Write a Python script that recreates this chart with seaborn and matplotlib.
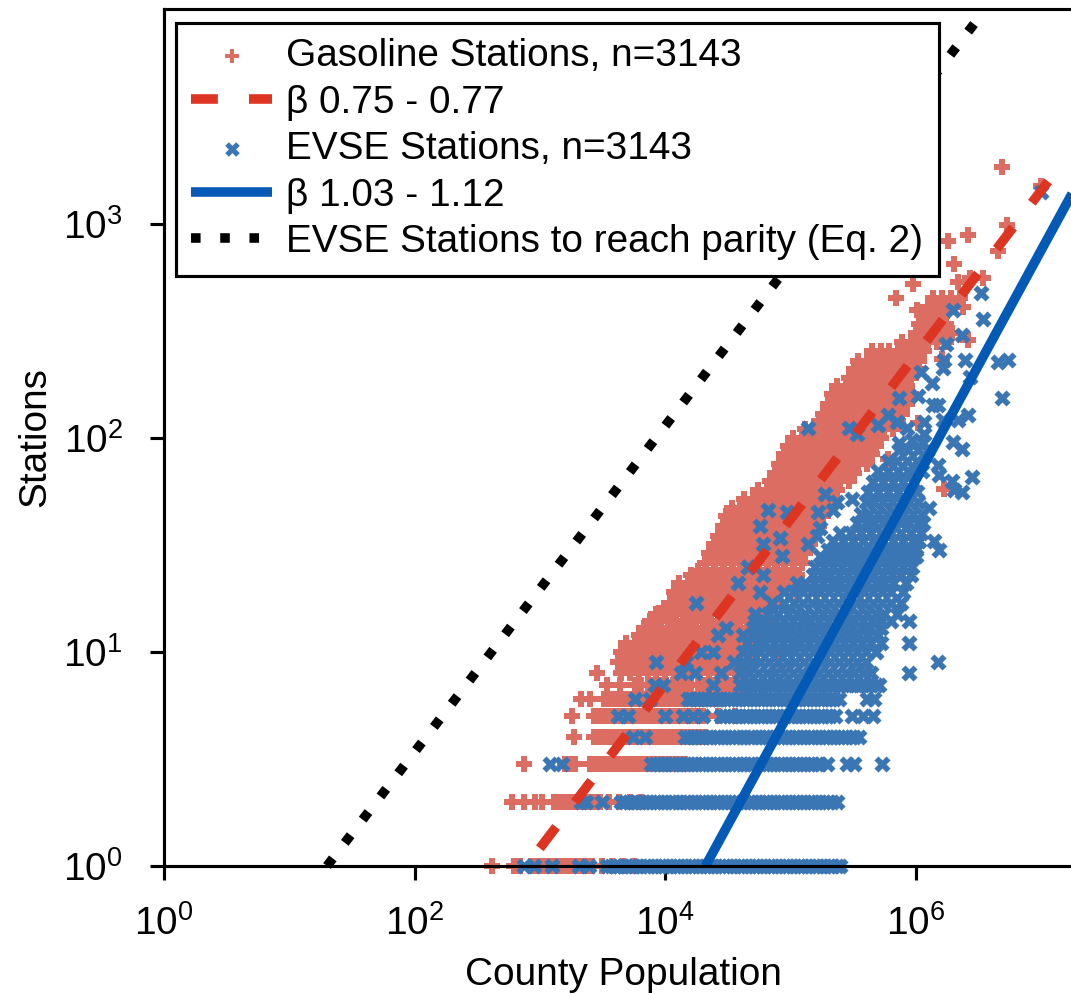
import numpy as np
import pandas as pd
import seaborn as sns
import matplotlib.pyplot as plt

# values: population as log10, stations as plain counts

gas_counts = [1, 2, 3, 4, 5, 6, 7, 8, 9, 10, 11, 12, 13, 14, 15, 16, 17, 19, 21, 23, 24, 26, 29, 32, 35, 39, 43, 47, 52,
              57, 63, 69, 76, 84, 92, 100, 110, 120, 130, 145, 160, 175, 190, 210, 230, 255, 280, 310, 340, 370, 410, 450]
gas_logpop = [
    [2.62, 2.79, 2.84, 2.93, 2.97, 3.01, 3.05, 3.09, 3.13, 3.17, 3.21, 3.25, 3.29, 3.33, 3.37, 3.42, 3.50, 3.58, 3.66, 3.75],
    [2.78, 2.87, 2.96, 3.02, 3.11, 3.15, 3.19, 3.23, 3.27, 3.31, 3.35, 3.39, 3.43, 3.48, 3.55, 3.63, 3.72, 3.81],
    [2.87, 3.20, 3.24, 3.28, 3.40, 3.44, 3.48, 3.52, 3.56, 3.60, 3.64, 3.68, 3.72, 3.76, 3.80, 3.84, 3.88, 3.92, 3.96,
     4.00, 4.04, 4.08, 4.12, 4.16],
    [3.27, 3.43, 3.47, 3.51, 3.55, 3.59, 3.63, 3.67, 3.71, 3.75, 3.79, 3.83, 3.87, 3.91, 3.95, 3.99, 4.03, 4.07, 4.11,
     4.15, 4.19, 4.23, 4.27, 4.32],
    [3.26, 3.43, 3.47, 3.51, 3.55, 3.59, 3.63, 3.67, 3.71, 3.75, 3.79, 3.83, 3.87, 3.91, 3.95, 3.99, 4.03, 4.07, 4.11,
     4.15, 4.19, 4.23, 4.27, 4.30, 4.42, 4.56],
    [3.33, 3.40, 3.51, 3.55, 3.59, 3.63, 3.67, 3.71, 3.75, 3.79, 3.83, 3.87, 3.91, 3.95, 3.99, 4.03, 4.07, 4.11, 4.15,
     4.19, 4.23, 4.27, 4.31, 4.35, 4.39, 4.45],
    [3.54, 3.64, 3.76, 3.81, 3.86, 3.91, 3.96, 4.01, 4.06, 4.11, 4.16, 4.21, 4.26, 4.31, 4.36, 4.41, 4.46, 4.51, 4.56, 4.60],
    [3.46, 3.65, 3.72, 3.79, 3.86, 3.93, 4.00, 4.07, 4.14, 4.21, 4.28, 4.35, 4.42, 4.49, 4.56, 4.63],
    [3.62, 3.69, 3.76, 3.83, 3.90, 3.97, 4.04, 4.11, 4.18, 4.25, 4.32, 4.39, 4.46, 4.53, 4.60, 4.67],
    [3.65, 3.72, 3.79, 3.86, 3.93, 4.00, 4.07, 4.14, 4.21, 4.28, 4.35, 4.42, 4.49, 4.56, 4.63, 4.70, 4.91],
    [3.69, 3.76, 3.83, 3.90, 3.97, 4.04, 4.11, 4.18, 4.25, 4.32, 4.39, 4.46, 4.53, 4.60, 4.67, 4.74],
    [3.79, 3.86, 3.93, 4.00, 4.07, 4.14, 4.21, 4.28, 4.35, 4.42, 4.49, 4.56, 4.63, 4.70, 4.77],
    [3.83, 3.90, 3.97, 4.04, 4.11, 4.18, 4.25, 4.32, 4.39, 4.46, 4.53, 4.60, 4.67, 4.74, 4.81, 4.95],
    [3.88, 3.95, 4.02, 4.09, 4.16, 4.23, 4.30, 4.37, 4.44, 4.51, 4.58, 4.65, 4.72, 4.79],
    [3.93, 4.00, 4.07, 4.14, 4.21, 4.28, 4.35, 4.42, 4.49, 4.56, 4.63, 4.70, 4.77, 4.84],
    [3.99, 4.06, 4.13, 4.20, 4.27, 4.34, 4.41, 4.48, 4.55, 4.62, 4.69, 4.76, 4.83],
    [4.04, 4.11, 4.18, 4.25, 4.32, 4.39, 4.46, 4.53, 4.60, 4.67, 4.74, 4.81, 4.88],
    [4.07, 4.14, 4.21, 4.28, 4.35, 4.42, 4.49, 4.56, 4.63, 4.70, 4.77, 4.84, 4.91, 4.98, 5.05],
    [4.11, 4.18, 4.25, 4.32, 4.39, 4.46, 4.53, 4.60, 4.67, 4.74, 4.81, 4.88, 4.95, 5.02],
    [4.21, 4.28, 4.35, 4.42, 4.49, 4.56, 4.63, 4.70, 4.77, 4.84, 4.91, 4.98, 5.05],
    [4.26, 4.33, 4.40, 4.47, 4.54, 4.61, 4.68, 4.75, 4.82, 4.89, 4.96, 5.03],
    [4.32, 4.39, 4.46, 4.53, 4.60, 4.67, 4.74, 4.81, 4.88, 4.95, 5.02, 5.09],
    [4.35, 4.42, 4.49, 4.56, 4.63, 4.70, 4.77, 4.84, 4.91, 4.98, 5.05, 5.12],
    [4.39, 4.46, 4.53, 4.60, 4.67, 4.74, 4.81, 4.88, 4.95, 5.02, 5.09, 5.16],
    [4.42, 4.49, 4.56, 4.63, 4.70, 4.77, 4.84, 4.91, 4.98, 5.05, 5.12, 5.19],
    [4.46, 4.53, 4.60, 4.67, 4.74, 4.81, 4.88, 4.95, 5.02, 5.09, 5.16, 5.23],
    [4.49, 4.56, 4.63, 4.70, 4.77, 4.84, 4.91, 4.98, 5.05, 5.12, 5.19, 5.26],
    [4.53, 4.60, 4.67, 4.74, 4.81, 4.88, 4.95, 5.02, 5.09, 5.16, 5.23, 5.30],
    [4.63, 4.70, 4.77, 4.84, 4.91, 4.98, 5.05, 5.12, 5.19, 5.26, 5.33],
    [4.74, 4.81, 4.88, 4.95, 5.02, 5.09, 5.16, 5.23, 5.30, 5.37],
    [4.84, 4.91, 4.98, 5.05, 5.12, 5.19, 5.26, 5.33, 5.40, 5.47],
    [4.88, 4.95, 5.02, 5.09, 5.16, 5.23, 5.30, 5.37, 5.44, 5.51],
    [4.91, 4.98, 5.05, 5.12, 5.19, 5.26, 5.33, 5.40, 5.47, 5.54, 5.61],
    [4.95, 5.02, 5.09, 5.16, 5.23, 5.30, 5.37, 5.44, 5.51, 5.58, 5.65],
    [4.98, 5.05, 5.12, 5.19, 5.26, 5.33, 5.40, 5.47, 5.54, 5.61, 5.68],
    [5.02, 5.09, 5.16, 5.23, 5.30, 5.37, 5.44, 5.51, 5.58, 5.65, 5.72],
    [5.12, 5.19, 5.26, 5.33, 5.40, 5.47, 5.54, 5.61, 5.68, 5.75, 5.82],
    [5.23, 5.30, 5.37, 5.44, 5.51, 5.58, 5.65, 5.72, 5.79, 5.86],
    [5.26, 5.33, 5.40, 5.47, 5.54, 5.61, 5.68, 5.75, 5.82, 5.89],
    [5.30, 5.37, 5.44, 5.51, 5.58, 5.65, 5.72, 5.79, 5.86, 5.93],
    [5.33, 5.40, 5.47, 5.54, 5.61, 5.68, 5.75, 5.82, 5.89, 5.96],
    [5.37, 5.44, 5.51, 5.58, 5.65, 5.72, 5.79, 5.86, 5.93],
    [5.47, 5.54, 5.61, 5.68, 5.75, 5.82, 5.89, 5.96],
    [5.51, 5.58, 5.65, 5.72, 5.79, 5.86, 5.93, 6.00],
    [5.54, 5.61, 5.68, 5.75, 5.82, 5.89, 5.96, 6.03],
    [5.65, 5.72, 5.79, 5.86, 5.93, 6.00, 6.07],
    [5.89, 5.96, 6.03, 6.10, 6.17, 6.24],
    [6.00, 6.07, 6.14, 6.21],
    [6.03, 6.10, 6.17, 6.24],
    [6.07, 6.14, 6.21],
    [6.10, 6.17, 6.24, 6.31, 6.38],
    [6.14, 6.21, 6.28, 6.35],
]
gas_sparse_logpop = [5.84, 5.98, 6.31, 6.34, 6.26, 6.42, 6.66, 6.54, 6.73, 6.69, 7.00, 6.43, 6.29, 6.42, 6.21, 6.23,
                     6.02, 5.78, 6.01]
gas_sparse_counts = [451, 525, 650, 537, 832, 891, 748, 562, 989, 1845, 1514, 562, 309, 287, 235, 58, 117, 80, 398]

evse_counts = [1, 2, 3, 4, 5, 6, 7, 8, 9, 10, 11, 12, 13, 14, 15, 17, 19, 21, 23, 25, 28, 30, 33, 36, 40, 44, 50, 56,
               62, 70, 78, 88]
evse_logpop = [
    [2.87, 2.95, 3.10, 3.31, 3.39, 3.54, 3.57, 3.60, 3.63, 3.66, 3.69, 3.72, 3.75, 3.78, 3.81, 3.84, 3.87, 3.90, 3.93,
     3.96, 3.99, 4.02, 4.05, 4.08, 4.11, 4.14, 4.17, 4.20, 4.23, 4.26, 4.29, 4.32, 4.35, 4.38, 4.41, 4.44, 4.47, 4.50,
     4.53, 4.56, 4.59, 4.62, 4.65, 4.68, 4.71, 4.74, 4.77, 4.80, 4.83, 4.86, 4.89, 4.92, 4.95, 4.98, 5.01, 5.04, 5.07,
     5.10, 5.13, 5.16, 5.19, 5.22, 5.25, 5.28, 5.31, 5.34, 5.37, 5.40],
    [3.33, 3.37, 3.50, 3.65, 3.68, 3.71, 3.74, 3.77, 3.80, 3.83, 3.86, 3.89, 3.92, 3.95, 3.98, 4.01, 4.04, 4.07, 4.10,
     4.13, 4.16, 4.19, 4.22, 4.25, 4.28, 4.31, 4.34, 4.37, 4.40, 4.43, 4.46, 4.49, 4.52, 4.55, 4.58, 4.61, 4.64, 4.67,
     4.70, 4.73, 4.76, 4.79, 4.82, 4.85, 4.88, 4.91, 4.94, 4.97, 5.00, 5.03, 5.06, 5.09, 5.12, 5.15, 5.18, 5.21, 5.24,
     5.27, 5.30, 5.33, 5.37],
    [3.08, 3.18, 3.89, 3.92, 3.95, 3.98, 4.01, 4.04, 4.07, 4.10, 4.13, 4.16, 4.19, 4.22, 4.25, 4.28, 4.31, 4.34, 4.37,
     4.40, 4.43, 4.46, 4.49, 4.52, 4.55, 4.58, 4.61, 4.64, 4.67, 4.70, 4.73, 4.76, 4.79, 4.82, 4.85, 4.88, 4.91, 4.94,
     4.97, 5.00, 5.03, 5.06, 5.09, 5.12, 5.15, 5.18, 5.21, 5.24, 5.29, 5.45, 5.51, 5.73],
    [3.74, 3.84, 4.16, 4.19, 4.22, 4.25, 4.28, 4.31, 4.34, 4.37, 4.40, 4.43, 4.46, 4.49, 4.52, 4.55, 4.58, 4.61, 4.64,
     4.67, 4.70, 4.73, 4.76, 4.79, 4.82, 4.85, 4.88, 4.91, 4.94, 4.97, 5.00, 5.03, 5.06, 5.09, 5.12, 5.15, 5.18, 5.21,
     5.24, 5.27, 5.30, 5.33, 5.36, 5.39, 5.42, 5.45, 5.48, 5.51, 5.55],
    [3.62, 3.70, 4.00, 4.14, 4.22, 4.30, 4.45, 4.48, 4.51, 4.54, 4.57, 4.60, 4.63, 4.66, 4.69, 4.72, 4.75, 4.78, 4.81,
     4.84, 4.87, 4.90, 4.93, 4.96, 4.99, 5.02, 5.05, 5.08, 5.11, 5.14, 5.17, 5.20, 5.23, 5.26, 5.29, 5.32, 5.36, 5.49,
     5.58, 5.66],
    [3.76, 3.88, 4.18, 4.21, 4.24, 4.27, 4.30, 4.33, 4.36, 4.39, 4.42, 4.45, 4.48, 4.51, 4.54, 4.57, 4.60, 4.63, 4.66,
     4.69, 4.72, 4.75, 4.78, 4.81, 4.84, 4.87, 4.90, 4.93, 4.96, 4.99, 5.02, 5.05, 5.08, 5.11, 5.14, 5.17, 5.20, 5.23,
     5.26, 5.29, 5.32, 5.35, 5.39, 5.61, 5.67],
    [3.92, 3.98, 4.38, 4.60, 4.64, 4.68, 4.72, 4.76, 4.80, 4.84, 4.88, 4.92, 4.96, 5.00, 5.04, 5.08, 5.12, 5.16, 5.20,
     5.24, 5.28, 5.32, 5.36, 5.40, 5.44, 5.48, 5.52, 5.56, 5.60, 5.64, 5.68, 5.71],
    [4.13, 4.24, 4.45, 4.60, 4.67, 4.74, 4.81, 4.88, 4.95, 5.02, 5.09, 5.16, 5.23, 5.30, 5.37, 5.44, 5.51, 5.58, 5.64,
     5.95],
    [3.93, 4.17, 4.55, 4.62, 4.69, 4.76, 4.83, 4.90, 4.97, 5.04, 5.11, 5.18, 5.25, 5.32, 5.39, 5.46, 5.53, 5.60, 6.18],
    [4.29, 4.38, 4.62, 4.69, 4.76, 4.83, 4.90, 4.97, 5.04, 5.11, 5.18, 5.25, 5.32, 5.39, 5.46, 5.53, 5.60, 5.68],
    [4.65, 4.73, 4.80, 4.87, 4.94, 5.01, 5.08, 5.15, 5.22, 5.29, 5.36, 5.43, 5.50, 5.57, 5.64, 5.72, 5.95],
    [4.42, 4.62, 4.70, 4.78, 4.85, 4.92, 4.99, 5.06, 5.13, 5.20, 5.27, 5.34, 5.41, 5.48, 5.55, 5.62, 5.70],
    [4.49, 4.70, 4.78, 4.86, 4.93, 5.00, 5.07, 5.14, 5.21, 5.28, 5.35, 5.42, 5.49, 5.56, 5.63, 5.72],
    [4.72, 4.80, 4.88, 4.95, 5.02, 5.09, 5.16, 5.23, 5.30, 5.37, 5.44, 5.51, 5.58, 5.65, 5.72, 5.80, 5.95],
    [4.72, 4.82, 4.90, 4.98, 5.05, 5.12, 5.19, 5.26, 5.33, 5.40, 5.47, 5.54, 5.61, 5.68, 5.75, 5.85],
    [4.25, 4.85, 4.95, 5.03, 5.10, 5.17, 5.24, 5.31, 5.38, 5.45, 5.52, 5.59, 5.66, 5.73, 5.80, 5.88],
    [4.76, 4.95, 5.03, 5.10, 5.17, 5.24, 5.31, 5.38, 5.45, 5.52, 5.59, 5.66, 5.73, 5.80, 5.90],
    [4.58, 5.05, 5.12, 5.19, 5.26, 5.33, 5.40, 5.47, 5.54, 5.61, 5.68, 5.75, 5.82, 5.92],
    [4.78, 5.18, 5.25, 5.32, 5.39, 5.46, 5.53, 5.60, 5.67, 5.74, 5.81, 5.88, 5.96],
    [4.66, 5.20, 5.27, 5.34, 5.41, 5.48, 5.55, 5.62, 5.69, 5.76, 5.83, 5.90, 5.97],
    [5.24, 5.31, 5.38, 5.45, 5.52, 5.59, 5.66, 5.73, 5.80, 5.87, 5.94, 6.00],
    [5.30, 5.37, 5.44, 5.51, 5.58, 5.65, 5.72, 5.79, 5.86, 5.93, 6.00, 6.19],
    [5.34, 5.42, 5.50, 5.58, 5.66, 5.74, 5.82, 5.90, 5.98, 6.03, 6.15],
    [5.40, 5.48, 5.56, 5.64, 5.72, 5.80, 5.88, 5.96, 6.04],
    [5.53, 5.60, 5.67, 5.74, 5.81, 5.88, 5.95, 6.02, 6.06],
    [5.56, 5.63, 5.70, 5.77, 5.84, 5.91, 5.98, 6.05],
    [5.60, 5.67, 5.74, 5.81, 5.88, 5.95, 6.02],
    [5.62, 5.70, 5.78, 5.86, 5.94, 6.01],
    [5.66, 5.74, 5.82, 5.90, 5.98],
    [5.70, 5.78, 5.86, 5.94, 6.00, 6.05],
    [5.78, 5.85, 5.93, 6.01],
    [5.87, 5.94, 6.02, 6.09],
]
evse_sparse_logpop = [6.11, 6.37, 6.31, 6.29, 6.45, 6.18, 6.19, 6.37, 6.30, 6.42, 6.34, 6.69, 6.66, 6.74, 6.39, 6.43,
                      6.23, 6.22, 6.13, 6.02, 5.87, 6.04, 6.37, 6.24, 6.54, 6.52, 6.30, 7.00, 5.78, 5.85, 5.70, 5.47,
                      5.53, 5.14, 6.14, 6.18, 6.07, 5.93, 6.07, 6.22, 5.87, 5.97, 6.06, 5.28, 5.49, 5.37, 4.82, 5.22,
                      4.97, 4.76, 5.34, 5.24, 4.92, 4.78, 4.93, 5.14, 5.21, 4.66]
evse_sparse_counts = [47, 56, 57, 63, 66, 75, 67, 89, 96, 128, 121, 154, 226, 231, 231, 193,
                      231, 212, 181, 157, 154, 204, 303, 275, 360, 476, 398, 1413, 128, 119, 115, 111,
                      105, 112, 142, 142, 119, 112, 105, 121, 95, 98, 95, 55, 52, 50, 46, 45,
                      45, 39, 46, 38, 34, 32, 28, 32, 35, 25]

# fitted lines, end points
gas_line_pop = [1000, 1.35e7]
gas_line_stations = [1.21, 1800]
evse_line_pop = [2.1e4, 2.2e7]
evse_line_stations = [1, 1750]
parity_line_pop = [20, 3.1e6]
parity_line_stations = [1, 9000]

GAS_COLOR = "#DB6D63"
EVSE_COLOR = "#3A75B4"


def build_frame(counts, logpop, sparse_logpop, sparse_counts):
    rows = [(10 ** p, n) for n, row in zip(counts, logpop) for p in row]
    rows += [(10 ** p, n) for p, n in zip(sparse_logpop, sparse_counts)]
    return pd.DataFrame(rows, columns=["population", "stations"])


gas = build_frame(gas_counts, gas_logpop, gas_sparse_logpop, gas_sparse_counts)
evse = build_frame(evse_counts, evse_logpop, evse_sparse_logpop, evse_sparse_counts)

sns.set_theme(style="ticks", context="paper")
plt.rcParams["font.family"] = ["Liberation Sans", "DejaVu Sans"]
plt.rcParams["mathtext.default"] = "regular"
plt.rcParams["text.color"] = "black"
plt.rcParams["lines.solid_capstyle"] = "butt"
plt.rcParams["lines.dash_capstyle"] = "butt"

fig = plt.figure(figsize=(1071 / 300, 993 / 300), dpi=300)
ax = fig.add_axes([164 / 1071, 127 / 993, 907 / 1071, 857 / 993])

sns.scatterplot(data=gas, x="population", y="stations", marker="P", s=14, color=GAS_COLOR, linewidth=0,
                clip_on=False, zorder=2, label="Gasoline Stations, n=3143", ax=ax)
sns.scatterplot(data=evse, x="population", y="stations", marker="X", s=15, color=EVSE_COLOR, linewidth=0,
                clip_on=False, zorder=3, label="EVSE Stations, n=3143", ax=ax)
sns.lineplot(x=gas_line_pop, y=gas_line_stations, color="#DD3522", lw=2.3, linestyle=(0, (2.8, 3.25)),
             estimator=None, clip_on=False, zorder=4, label="β 0.75 - 0.77", ax=ax)
sns.lineplot(x=evse_line_pop, y=evse_line_stations, color="#0259B6", lw=2.3,
             estimator=None, clip_on=False, zorder=4, label="β 1.03 - 1.12", ax=ax)
sns.lineplot(x=parity_line_pop, y=parity_line_stations, color="black", lw=2.3, linestyle=(0, (1, 2.05)),
             estimator=None, clip_on=False, zorder=4, label="EVSE Stations to reach parity (Eq. 2)", ax=ax)

ax.set_xscale("log")
ax.set_yscale("log")
ax.set_xlim(1, 10 ** 7.24)
ax.set_ylim(1, 10 ** 4.005)
ax.set_xticks([1, 1e2, 1e4, 1e6])
ax.set_yticks([1, 1e1, 1e2, 1e3])
ax.minorticks_off()
ax.tick_params(length=3.4, width=0.75, labelsize=9.3, color="black", labelcolor="black")
ax.tick_params(axis="x", pad=5.9)
ax.tick_params(axis="y", pad=6.5)
ax.set_xlabel("County Population", fontsize=9.3, labelpad=3.4, color="black", x=0.506)
ax.set_ylabel("Stations", fontsize=9.3, labelpad=2.5, color="black")
for side in ["left", "bottom", "top"]:
    ax.spines[side].set_linewidth(0.75)
    ax.spines[side].set_color("black")
    ax.spines[side].set_zorder(5)
ax.spines["right"].set_visible(False)

handles, labels = ax.get_legend_handles_labels()
order = [labels.index(s) for s in ["Gasoline Stations, n=3143", "β 0.75 - 0.77", "EVSE Stations, n=3143",
                                   "β 1.03 - 1.12", "EVSE Stations to reach parity (Eq. 2)"]]
leg = ax.legend([handles[i] for i in order], [labels[i] for i in order], loc="upper left",
                bbox_to_anchor=(0.0132, 0.984), borderaxespad=0, fontsize=9.3, fancybox=False,
                framealpha=1, edgecolor="black", handlelength=2.08, labelspacing=0.27, borderpad=0.4,
                handletextpad=0.36, markerscale=0.9)
leg.get_frame().set_linewidth(0.75)
leg.set_zorder(6)

fig.savefig("out.png", dpi=300)
